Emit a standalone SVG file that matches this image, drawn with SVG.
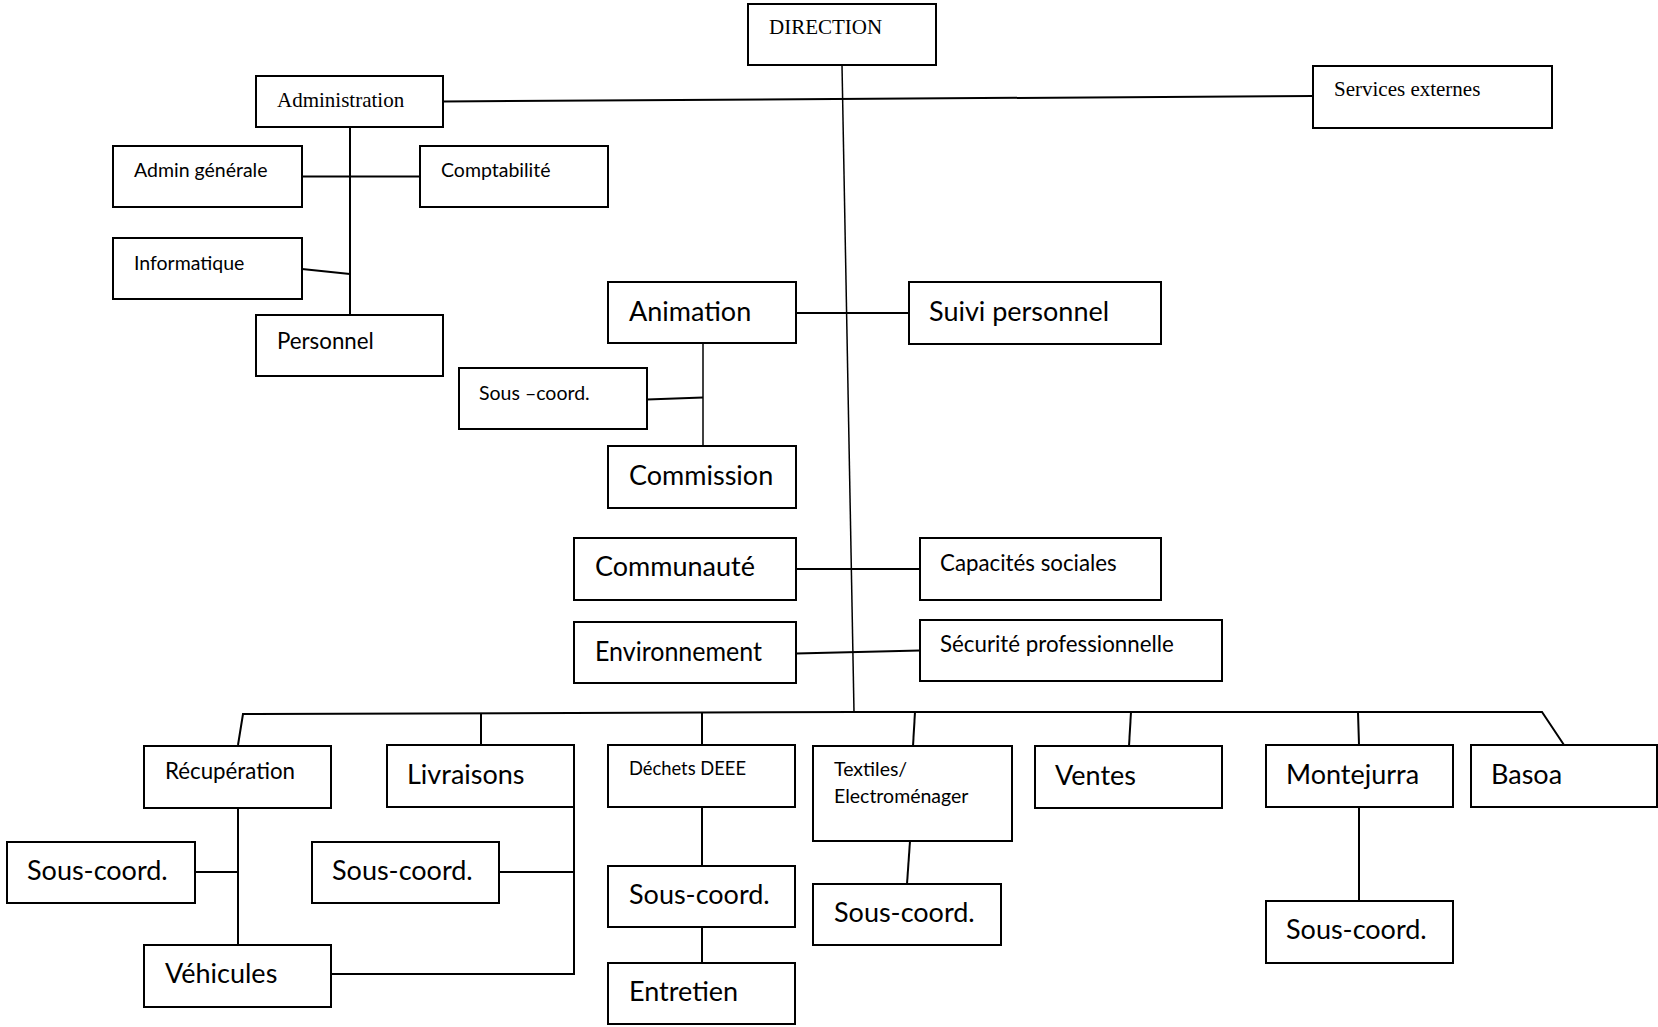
<svg xmlns="http://www.w3.org/2000/svg" width="1658" height="1027" viewBox="0 0 1658 1027">
<style>
.box{fill:#fff;stroke:#000;stroke-width:2}
.ser{font-family:"Liberation Serif","Times New Roman",serif;font-size:21px;fill:#000}
.sm{font-family:Lato,"Liberation Sans",sans-serif;font-size:19.5px;fill:#000}
.md{font-family:Lato,"Liberation Sans",sans-serif;font-size:22.3px;fill:#000}
.lg{font-family:Lato,"Liberation Sans",sans-serif;font-size:27px;fill:#000}
.ln{fill:none;stroke:#000;stroke-width:2}
.thin{fill:none;stroke:#000;stroke-width:1.5}
</style>
<rect width="1658" height="1027" fill="#fff"/>
<g id="connectors">
<line class="thin" x1="842" y1="65" x2="854" y2="712"/>
<line class="ln" x1="443" y1="101.5" x2="1313" y2="96"/>
<line class="ln" x1="350" y1="127" x2="350" y2="315"/>
<line class="ln" x1="302" y1="176.5" x2="420" y2="176.5"/>
<line class="ln" x1="302" y1="269" x2="350" y2="274"/>
<line class="ln" x1="796" y1="313" x2="909" y2="313"/>
<line class="thin" x1="703" y1="343" x2="703" y2="446"/>
<line class="ln" x1="647" y1="399.5" x2="703" y2="397.5"/>
<line class="ln" x1="796" y1="569" x2="920" y2="569"/>
<line class="ln" x1="796" y1="653.5" x2="920" y2="650.5"/>
<polyline class="ln" points="238,745 243,714 854,712 1542,712 1564,745"/>
<line class="ln" x1="481" y1="713.5" x2="481" y2="745"/>
<line class="ln" x1="702" y1="713" x2="702" y2="745"/>
<line class="ln" x1="915" y1="712" x2="913" y2="746"/>
<line class="ln" x1="1131" y1="712" x2="1129" y2="746"/>
<line class="ln" x1="1358" y1="712" x2="1359" y2="745"/>
<line class="ln" x1="238" y1="808" x2="238" y2="945"/>
<line class="ln" x1="195" y1="872" x2="238" y2="872"/>
<polyline class="ln" points="574,776 574,974 331,974"/>
<line class="ln" x1="499" y1="872" x2="574" y2="872"/>
<line class="ln" x1="702" y1="807" x2="702" y2="866"/>
<line class="ln" x1="702" y1="927" x2="702" y2="963"/>
<line class="ln" x1="910" y1="841" x2="907" y2="884"/>
<line class="ln" x1="1359" y1="807" x2="1359" y2="901"/>
</g>
<g id="direction"><rect class="box" x="748" y="4" width="188" height="61"/><text class="ser" x="769" y="34">DIRECTION</text></g>
<g id="services-externes"><rect class="box" x="1313" y="66" width="239" height="62"/><text class="ser" x="1334" y="96">Services externes</text></g>
<g id="administration"><rect class="box" x="256" y="76" width="187" height="51"/><text class="ser" x="277" y="107">Administration</text></g>
<g id="admin-generale"><rect class="box" x="113" y="146" width="189" height="61"/><text class="sm" x="134" y="177">Admin générale</text></g>
<g id="comptabilite"><rect class="box" x="420" y="146" width="188" height="61"/><text class="sm" x="441" y="177">Comptabilité</text></g>
<g id="informatique"><rect class="box" x="113" y="238" width="189" height="61"/><text class="sm" x="134" y="270">Informatique</text></g>
<g id="personnel"><rect class="box" x="256" y="315" width="187" height="61"/><text class="md" x="277" y="349">Personnel</text></g>
<g id="animation"><rect class="box" x="608" y="282" width="188" height="61"/><text class="lg" x="629" y="321">Animation</text></g>
<g id="suivi-personnel"><rect class="box" x="909" y="282" width="252" height="62"/><text class="lg" x="929" y="321">Suivi personnel</text></g>
<g id="sous-coord-animation"><rect class="box" x="459" y="368" width="188" height="61"/><text class="sm" x="479" y="400">Sous –coord.</text></g>
<g id="commission"><rect class="box" x="608" y="446" width="188" height="62"/><text class="lg" x="629" y="485">Commission</text></g>
<g id="communaute"><rect class="box" x="574" y="538" width="222" height="62"/><text class="lg" x="595" y="576">Communauté</text></g>
<g id="capacites-sociales"><rect class="box" x="920" y="538" width="241" height="62"/><text class="md" x="940" y="571">Capacités sociales</text></g>
<g id="environnement"><rect class="box" x="574" y="622" width="222" height="61"/><text class="lg" x="595" y="661" textLength="167" lengthAdjust="spacingAndGlyphs">Environnement</text></g>
<g id="securite-professionnelle"><rect class="box" x="920" y="620" width="302" height="61"/><text class="md" x="940" y="652">Sécurité professionnelle</text></g>
<g id="recuperation"><rect class="box" x="144" y="746" width="187" height="62"/><text class="md" x="165" y="779">Récupération</text></g>
<g id="livraisons"><rect class="box" x="387" y="745" width="187" height="62"/><text class="lg" x="407" y="784">Livraisons</text></g>
<g id="dechets-deee"><rect class="box" x="608" y="745" width="187" height="62"/><text class="sm" x="629" y="775" textLength="117" lengthAdjust="spacingAndGlyphs">Déchets DEEE</text></g>
<g id="textiles"><rect class="box" x="813" y="746" width="199" height="95"/><text class="sm" x="834" y="776">Textiles/</text><text class="sm" x="834" y="803">Electroménager</text></g>
<g id="ventes"><rect class="box" x="1035" y="746" width="187" height="62"/><text class="lg" x="1055" y="785">Ventes</text></g>
<g id="montejurra"><rect class="box" x="1266" y="745" width="187" height="62"/><text class="lg" x="1286" y="784">Montejurra</text></g>
<g id="basoa"><rect class="box" x="1471" y="745" width="186" height="62"/><text class="lg" x="1491" y="784">Basoa</text></g>
<g id="sous-coord-recuperation"><rect class="box" x="7" y="842" width="188" height="61"/><text class="lg" x="27" y="880">Sous-coord.</text></g>
<g id="vehicules"><rect class="box" x="144" y="945" width="187" height="62"/><text class="lg" x="165" y="983">Véhicules</text></g>
<g id="sous-coord-livraisons"><rect class="box" x="312" y="842" width="187" height="61"/><text class="lg" x="332" y="880">Sous-coord.</text></g>
<g id="sous-coord-deee"><rect class="box" x="608" y="866" width="187" height="61"/><text class="lg" x="629" y="904">Sous-coord.</text></g>
<g id="entretien"><rect class="box" x="608" y="963" width="187" height="61"/><text class="lg" x="629" y="1001">Entretien</text></g>
<g id="sous-coord-textiles"><rect class="box" x="813" y="884" width="188" height="61"/><text class="lg" x="834" y="922">Sous-coord.</text></g>
<g id="sous-coord-montejurra"><rect class="box" x="1266" y="901" width="187" height="62"/><text class="lg" x="1286" y="939">Sous-coord.</text></g>
</svg>
